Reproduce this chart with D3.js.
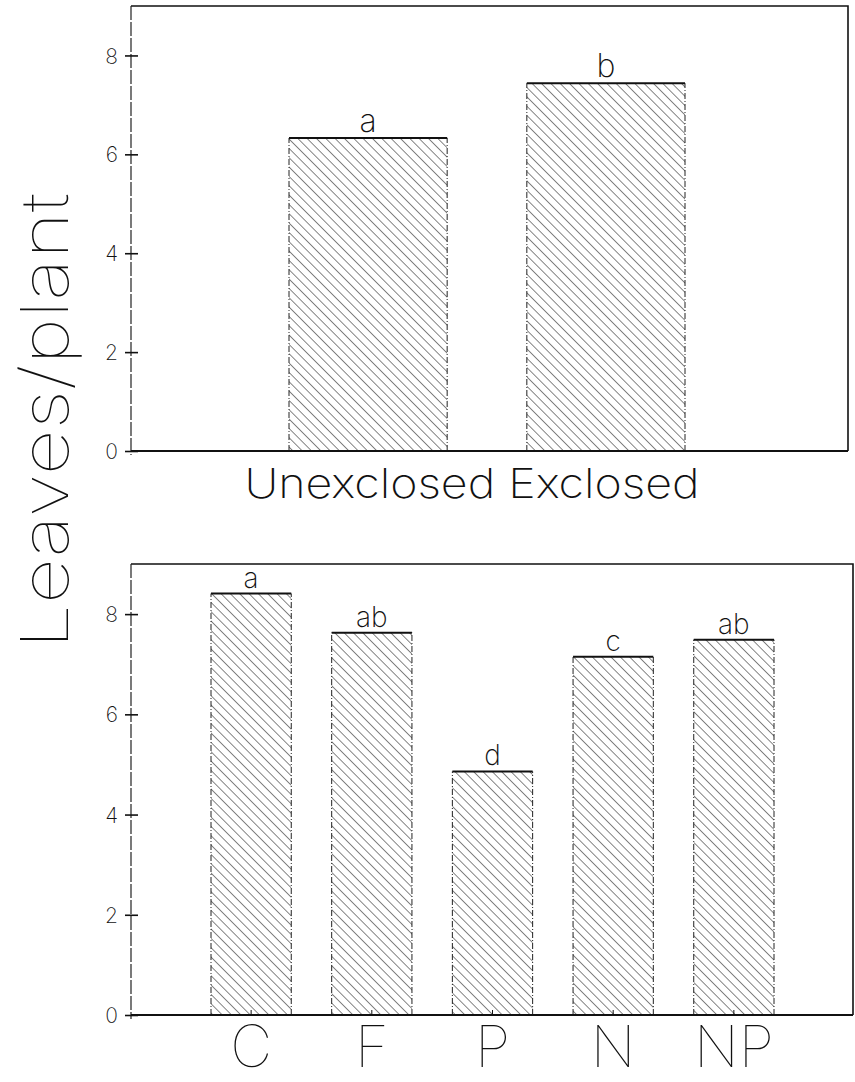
<!DOCTYPE html>
<html><head><meta charset="utf-8">
<script src="https://cdn.jsdelivr.net/npm/d3@7"></script>
<style>body{margin:0;background:#fff}svg{display:block}text{font-family:Inter,"DejaVu Sans",sans-serif;font-weight:200;fill:#111}</style>
</head><body><svg id="c" width="855" height="1082"></svg>
<script>
const topCats = ["Unexclosed", "Exclosed"];
const topVals = [6.33, 7.44];
const topLetters = ["a", "b"];
const botCats = ["C", "F", "P", "N", "NP"];
const botVals = [8.41, 7.63, 4.86, 7.15, 7.49];
const botLetters = ["a", "ab", "d", "c", "ab"];
const yTicks = [0, 2, 4, 6, 8];
const yLabel = "Leaves/plant";

const svg = d3.select("#c");
const defs = svg.append("defs");
const pat = defs.append("pattern").attr("id","hatch").attr("patternUnits","userSpaceOnUse")
  .attr("width",6.6).attr("height",6.6).attr("patternTransform","rotate(-45)");
pat.append("line").attr("x1",0).attr("y1",0).attr("x2",0).attr("y2",6.6)
  .attr("stroke","#222").attr("stroke-width",1.1);

function panel(cfg){
  const g = svg.append("g");
  const x = d3.scaleBand().domain(cfg.cats).range(cfg.xr).paddingInner(cfg.pad).paddingOuter(0);
  const y = d3.scaleLinear().domain([0,9]).range(cfg.yr);
  g.append("path").attr("d",`M${cfg.left},${y(9)}H${cfg.right}V${y(0)}`).attr("fill","none")
    .attr("stroke","#111").attr("stroke-width",1.6);
  g.append("line").attr("x1",cfg.left).attr("x2",cfg.left).attr("y1",y(9)).attr("y2",y(0)+4)
    .attr("stroke","#222").attr("stroke-width",1.2).attr("stroke-dasharray","14,2");
  const bars = g.selectAll(".bar").data(cfg.vals).join("g");
  bars.append("rect").attr("x",(d,i)=>x(cfg.cats[i])).attr("width",x.bandwidth())
    .attr("y",d=>y(d)).attr("height",d=>y(0)-y(d)).attr("fill","url(#hatch)");
  bars.append("path").attr("d",(d,i)=>`M${x(cfg.cats[i])},${y(0)}V${y(d)}`)
    .attr("stroke","#222").attr("stroke-width",1).attr("stroke-dasharray","6,2,1,2").attr("fill","none");
  bars.append("path").attr("d",(d,i)=>`M${x(cfg.cats[i])+x.bandwidth()},${y(0)}V${y(d)}`)
    .attr("stroke","#222").attr("stroke-width",1).attr("stroke-dasharray","6,2,1,2").attr("fill","none");
  bars.append("line").attr("x1",(d,i)=>x(cfg.cats[i])).attr("x2",(d,i)=>x(cfg.cats[i])+x.bandwidth())
    .attr("y1",d=>y(d)).attr("y2",d=>y(d)).attr("stroke","#111").attr("stroke-width",2);
  bars.append("text").attr("x",(d,i)=>x(cfg.cats[i])+x.bandwidth()/2).attr("y",d=>y(d)-6)
    .attr("text-anchor","middle").style("font-size",cfg.letterSize+"px").text((d,i)=>cfg.letters[i]);
  g.append("line").attr("x1",cfg.left).attr("x2",cfg.right).attr("y1",y(0)).attr("y2",y(0))
    .attr("stroke","#111").attr("stroke-width",2.2);
  const ax = g.append("g").attr("transform",`translate(${cfg.left},0)`)
    .call(d3.axisLeft(y).tickValues(yTicks).tickSize(6).tickPadding(6).tickFormat(d3.format("d")));
  ax.select(".domain").remove();
  ax.selectAll(".tick line").attr("x2",7).attr("x1",-6).attr("stroke","#111").attr("stroke-width",1.6);
  ax.selectAll(".tick text").attr("x",-13).attr("dy","0.36em").style("font-size","21px")
    .style("font-family","Inter, DejaVu Sans, sans-serif").style("font-weight",200).attr("fill","#111");
  return {g,x,y};
}

const p1 = panel({cats:topCats, vals:topVals, letters:topLetters, xr:[289,685], pad:0.335, yr:[451,6],
  left:131, right:848, letterSize:32});
const p2 = panel({cats:botCats, vals:botVals, letters:botLetters, xr:[211,774], pad:0.335, yr:[1015,564],
  left:131, right:853, letterSize:28});

svg.append("text").attr("x",472).attr("y",498).attr("text-anchor","middle")
  .style("font-size","41px").attr("textLength",455).attr("lengthAdjust","spacingAndGlyphs")
  .text(topCats.join(" "));
svg.append("g").selectAll("text").data(botCats).join("text")
  .attr("x",d=>p2.x(d)+p2.x.bandwidth()/2).attr("y",1067).attr("text-anchor","middle")
  .style("font-size","58px").style("font-weight",100).text(d=>d);
svg.append("g").selectAll("line").data(botCats).join("line")
  .attr("x1",d=>p2.x(d)+p2.x.bandwidth()/2).attr("x2",d=>p2.x(d)+p2.x.bandwidth()/2)
  .attr("y1",p2.y(0)-5).attr("y2",p2.y(0)).attr("stroke","#111").attr("stroke-width",1);
svg.append("text").attr("transform","translate(68,421) rotate(-90)").attr("text-anchor","middle")
  .style("font-size","66px").style("font-weight",100).attr("textLength",456)
  .attr("lengthAdjust","spacingAndGlyphs").text(yLabel);
</script></body></html>
